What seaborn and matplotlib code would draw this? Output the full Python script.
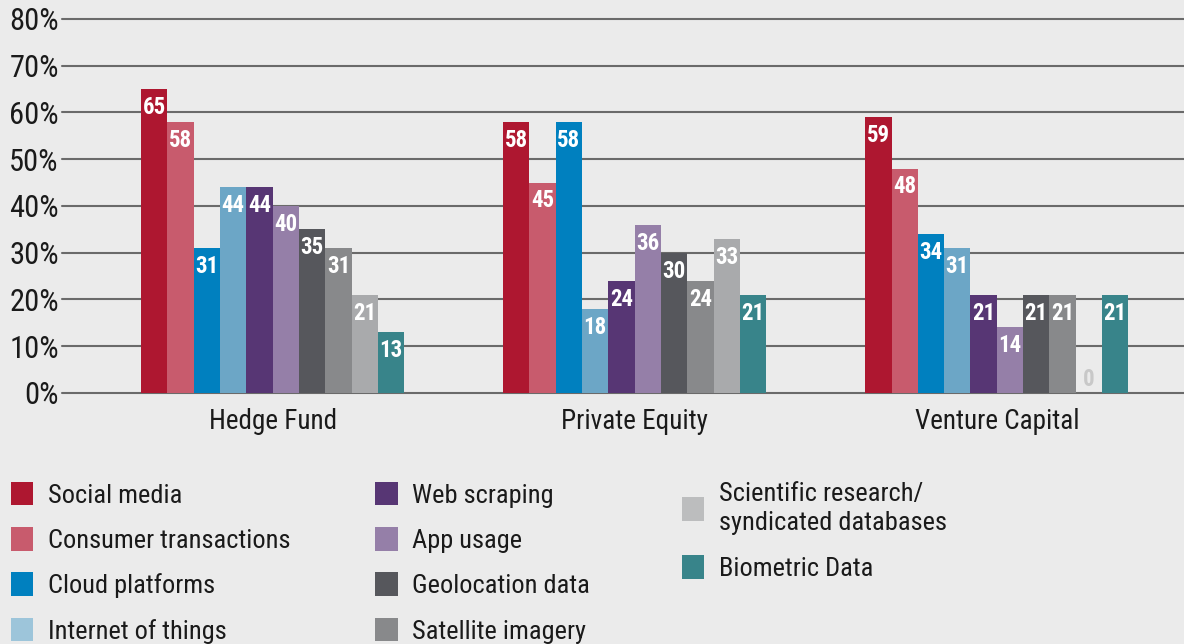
import seaborn as sns
import numpy as np
import pandas as pd
import matplotlib.pyplot as plt
from matplotlib.patches import Patch

# dados
groups = ['Hedge Fund', 'Private Equity', 'Venture Capital']
sources = ['Social media', 'Consumer transactions', 'Cloud platforms', 'Internet of things',
           'Web scraping', 'App usage', 'Geolocation data', 'Satellite imagery',
           'Scientific research/\nsyndicated databases', 'Biometric Data']
social_media = [65, 58, 59]
consumer_transactions = [58, 45, 48]
cloud_platforms = [31, 58, 34]
internet_of_things = [44, 18, 31]
web_scraping = [44, 24, 21]
app_usage = [40, 36, 14]
geolocation = [35, 30, 21]
satellite = [31, 24, 21]
scientific = [21, 33, 0]
biometric = [13, 21, 21]
yticks = [0, 10, 20, 30, 40, 50, 60, 70, 80]

series = [social_media, consumer_transactions, cloud_platforms, internet_of_things,
          web_scraping, app_usage, geolocation, satellite, scientific, biometric]
colors = ['#ae1730', '#c85b6d', '#0080bf', '#6ca6c6', '#573674',
          '#957fa8', '#56575c', '#88898b', '#a9aaac', '#38848a']
legend_colors = ['#ae1730', '#c85b6d', '#0080bf', '#9dc5da', '#573674',
                 '#957fa8', '#56575c', '#88898b', '#bcbdbe', '#38848a']

rows = []
for s, vals in zip(sources, series):
    for g, v in zip(groups, vals):
        rows.append({'group': g, 'source': s, 'value': v})
df = pd.DataFrame(rows)

sns.set_style('white')
plt.rcParams['font.family'] = ['Roboto Condensed', 'Liberation Sans Narrow', 'Roboto', 'DejaVu Sans']
bg = '#ebebeb'

fig = plt.figure(figsize=(11.84, 6.44), dpi=100, facecolor=bg)
ax = fig.add_axes([0.052, 0.39, 0.948, 0.5805])
ax.set_facecolor(bg)

sns.barplot(data=df, x='group', y='value', hue='source', hue_order=sources,
            palette=colors, width=0.727, gap=0, saturation=1, linewidth=0,
            legend=False, ax=ax, zorder=3)

# rotulos das barras
for cont, vals in zip(ax.containers, series):
    for bar, v in zip(cont, vals):
        x = bar.get_x() + bar.get_width() / 2
        if v == 0:
            ax.annotate(str(v), (x, 0), xytext=(0, 1), textcoords='offset points',
                        ha='center', va='bottom', color='#c8c8c8', fontsize=16.5,
                        fontweight='bold', zorder=4)
        else:
            ax.annotate(str(v), (x, v), xytext=(0, -5), textcoords='offset points',
                        ha='center', va='top', color='white', fontsize=16.5,
                        fontweight='bold', zorder=4)

ax.set_xlim(-0.583, 2.517)
ax.set_ylim(0, 80)
ax.set_yticks(yticks)
ax.set_yticklabels([f'{t}%' for t in yticks], fontsize=22, color='#1a1a1a')
ax.yaxis.grid(True, color='#6a6a6a', linewidth=1.5, zorder=0)
ax.set_axisbelow(True)
ax.tick_params(axis='both', length=0)
ax.tick_params(axis='y', pad=2)
ax.tick_params(axis='x', pad=11, labelsize=19.5, labelcolor='#1a1a1a')
ax.set_xlabel('')
ax.set_ylabel('')
for sp in ax.spines.values():
    sp.set_visible(False)
for gl in ax.get_ygridlines():
    gl.set_clip_on(False)

# legenda em 3 colunas
handles = [Patch(facecolor=c, edgecolor='none', label=s) for c, s in zip(legend_colors, sources)]
cols = [(handles[0:4], 0.009), (handles[4:8], 0.317), (handles[8:10], 0.576)]
for hs, x0 in cols:
    leg = fig.legend(handles=hs, loc='upper left', bbox_to_anchor=(x0, 0.252),
                     frameon=False, fontsize=19, handlelength=0.85, handleheight=1.0,
                     handletextpad=0.55, labelspacing=0.74, borderpad=0, borderaxespad=0)
    for t in leg.get_texts():
        t.set_color('#1a1a1a')
        t.set_linespacing(1.3)

fig.savefig('out.png', dpi=100, facecolor=bg)
